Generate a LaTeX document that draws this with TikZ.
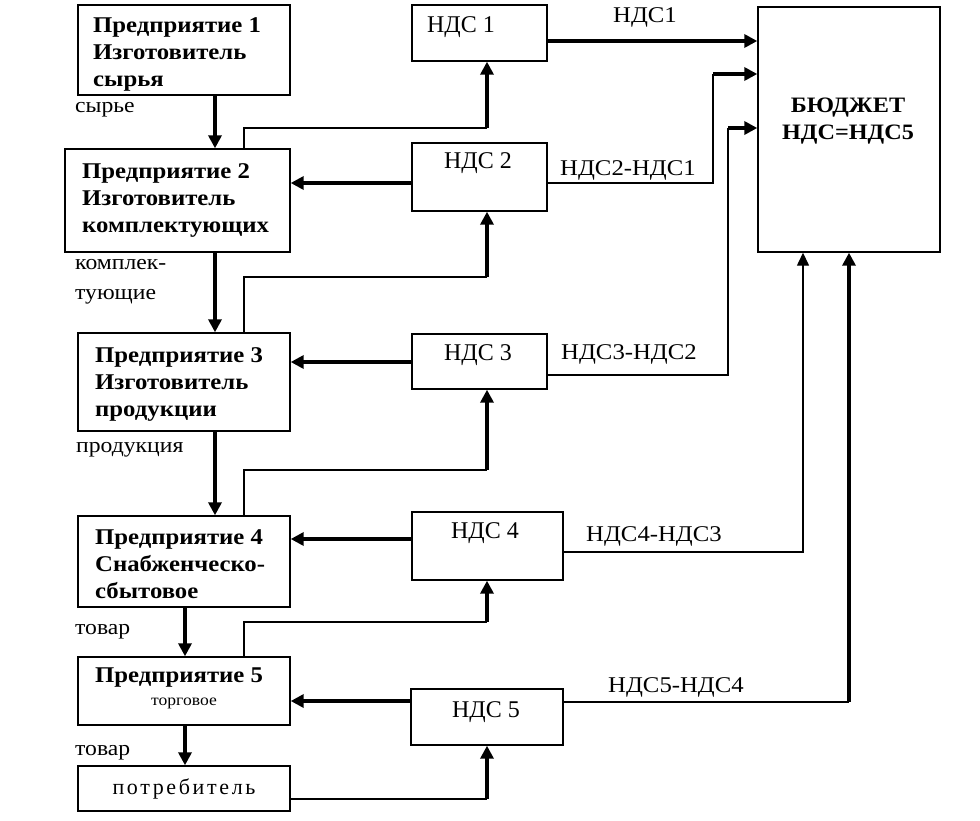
\documentclass[tikz,border=0pt]{standalone}
\usepackage{fontspec}
\setmainfont{Liberation Serif}
\newfontfamily\wideserif{Liberation Serif}[FakeStretch=1.1]
\newfontfamily\spacedserif{Liberation Serif}[LetterSpace=12]
\usetikzlibrary{arrows.meta}
\tikzset{
  box/.style={draw, line width=1.4pt, inner sep=0pt},
  boxtext/.style={font=\wideserif\bfseries\fontsize{22.5}{27}\selectfont, align=left, anchor=west, inner sep=0pt},
  ndstext/.style={font=\fontsize{24}{28}\selectfont, inner sep=0pt},
  flowlabel/.style={font=\wideserif\fontsize{21.5}{30}\selectfont, anchor=west, inner sep=0pt},
  linelabel/.style={font=\wideserif\fontsize{22.5}{26}\selectfont, inner sep=0pt},
  heavy/.style={line width=3.6pt, -{Triangle[length=13pt,width=13pt]}},
  light/.style={line width=1.4pt},
  lightarrow/.style={line width=1.4pt, -{Triangle[length=13pt,width=12pt]}},
}
\begin{document}
\begin{tikzpicture}[x=1pt,y=-1pt]
\useasboundingbox (0,0) rectangle (980,820);
% boxes
\node[box, minimum width=212pt, minimum height=90pt] (e1) at (184,50) {};
\node[box, minimum width=225pt, minimum height=103pt] (e2) at (177.5,200.5) {};
\node[box, minimum width=212pt, minimum height=98pt] (e3) at (184,382) {};
\node[box, minimum width=212pt, minimum height=91pt] (e4) at (184,561.5) {};
\node[box, minimum width=212pt, minimum height=68pt] (e5) at (184,691) {};
\node[box, minimum width=212pt, minimum height=45pt] (cons) at (184,788.5) {};
\node[box, minimum width=135pt, minimum height=56pt] (n1) at (479.5,33) {};
\node[box, minimum width=135pt, minimum height=68pt] (n2) at (479.5,177) {};
\node[box, minimum width=135pt, minimum height=55pt] (n3) at (479.5,361.5) {};
\node[box, minimum width=151pt, minimum height=68pt] (n4) at (487.5,546) {};
\node[box, minimum width=152pt, minimum height=56pt] (n5) at (487,717) {};
\node[box, minimum width=182pt, minimum height=245pt] (bud) at (849,129.5) {};
% box texts
\node[boxtext] (t1) at (93,54) {Предприятие 1\\Изготовитель\\сырья};
\node[boxtext] (t2) at (82,200) {Предприятие 2\\Изготовитель\\комплектующих};
\node[boxtext] (t3) at (95,384) {Предприятие 3\\Изготовитель\\продукции};
\node[boxtext] (t4) at (95,564.5) {Предприятие 4\\Снабженческо-\\сбытовое};
\node[boxtext] (t5) at (95,678) {Предприятие 5};
\node[font=\wideserif\fontsize{16}{18}\selectfont, inner sep=0pt] (t5b) at (184,703) {торговое};
\node[font=\spacedserif\fontsize{22}{24}\selectfont, inner sep=0pt] (tc) at (184,789) {потребитель};
\node[font=\wideserif\bfseries\fontsize{22}{27}\selectfont, align=center, inner sep=0pt] (tb) at (848,121) {БЮДЖЕТ\\НДС=НДС5};
\node[ndstext] (tn1) at (461,27) {НДС 1};
\node[ndstext] (tn2) at (478,163) {НДС 2};
\node[ndstext] (tn3) at (478,355) {НДС 3};
\node[ndstext] (tn4) at (485,533) {НДС 4};
\node[ndstext] (tn5) at (486,712) {НДС 5};
% flow labels
\node[flowlabel] (l1) at (75,110) {сырье};
\node[flowlabel, align=left] (l2) at (75,282) {комплек-\\тующие};
\node[flowlabel] (l3) at (76,450) {продукция};
\node[flowlabel] (l4) at (75,632) {товар};
\node[flowlabel] (l5) at (75,753) {товар};
% line labels
\node[linelabel] (k1) at (645,17) {НДС1};
\node[linelabel] (k2) at (628,170) {НДС2-НДС1};
\node[linelabel] (k3) at (629,354) {НДС3-НДС2};
\node[linelabel] (k4) at (654,536) {НДС4-НДС3};
\node[linelabel] (k5) at (676,687) {НДС5-НДС4};
% helper coordinates
\coordinate (xa) at (215,0);
\coordinate (xb) at (185,0);
\coordinate (xc) at (244,0);
\coordinate (xd) at (487,0);
\coordinate (xe) at (713,0);
\coordinate (xf) at (728,0);
\coordinate (xg) at (803,0);
\coordinate (xh) at (849,0);
\coordinate (y1) at (0,128);
\coordinate (y2) at (0,277);
\coordinate (y3) at (0,470);
\coordinate (y4) at (0,622);
\coordinate (y5) at (0,799);
\coordinate (r2) at (0,183);
\coordinate (r3) at (0,362);
\coordinate (r4) at (0,539);
\coordinate (r5) at (0,701);
\coordinate (s1) at (0,41);
\coordinate (s2) at (0,74);
\coordinate (o3) at (0,375);
\coordinate (o4) at (0,552);
\coordinate (o5) at (0,702);
% material flow
\draw[heavy] (xa |- e1.south) -- (xa |- e2.north);
\draw[heavy] (xa |- e2.south) -- (xa |- e3.north);
\draw[heavy] (xa |- e3.south) -- (xa |- e4.north);
\draw[heavy] (xb |- e4.south) -- (xb |- e5.north);
\draw[heavy] (xb |- e5.south) -- (xb |- cons.north);
% enterprise -> NDS
\draw[light] (xc |- e2.north) -- (xc |- y1) -- (xd |- y1);
\draw[heavy] (xd |- y1) -- (xd |- n1.south);
\draw[light] (xc |- e3.north) -- (xc |- y2) -- (xd |- y2);
\draw[heavy] (xd |- y2) -- (xd |- n2.south);
\draw[light] (xc |- e4.north) -- (xc |- y3) -- (xd |- y3);
\draw[heavy] (xd |- y3) -- (xd |- n3.south);
\draw[light] (xc |- e5.north) -- (xc |- y4) -- (xd |- y4);
\draw[heavy] (xd |- y4) -- (xd |- n4.south);
\draw[light] (cons.east |- y5) -- (xd |- y5);
\draw[heavy] (xd |- y5) -- (xd |- n5.south);
% NDS -> enterprise
\draw[heavy] (n2.west |- r2) -- (e2.east |- r2);
\draw[heavy] (n3.west |- r3) -- (e3.east |- r3);
\draw[heavy] (n4.west |- r4) -- (e4.east |- r4);
\draw[heavy] (n5.west |- r5) -- (e5.east |- r5);
% NDS -> budget
\draw[heavy] (n1.east |- s1) -- (bud.west |- s1);
\draw[light] (n2.east |- r2) -- (xe |- r2) -- (xe |- s2);
\draw[heavy] (xe |- s2) -- (bud.west |- s2);
\draw[light] (n3.east |- o3) -- (xf |- o3) -- (xf |- y1);
\draw[heavy] (xf |- y1) -- (bud.west |- y1);
\draw[lightarrow] (n4.east |- o4) -- (xg |- o4) -- (xg |- bud.south);
\draw[light] (n5.east |- o5) -- (xh |- o5);
\draw[heavy] (xh |- o5) -- (xh |- bud.south);
\end{tikzpicture}
\end{document}
